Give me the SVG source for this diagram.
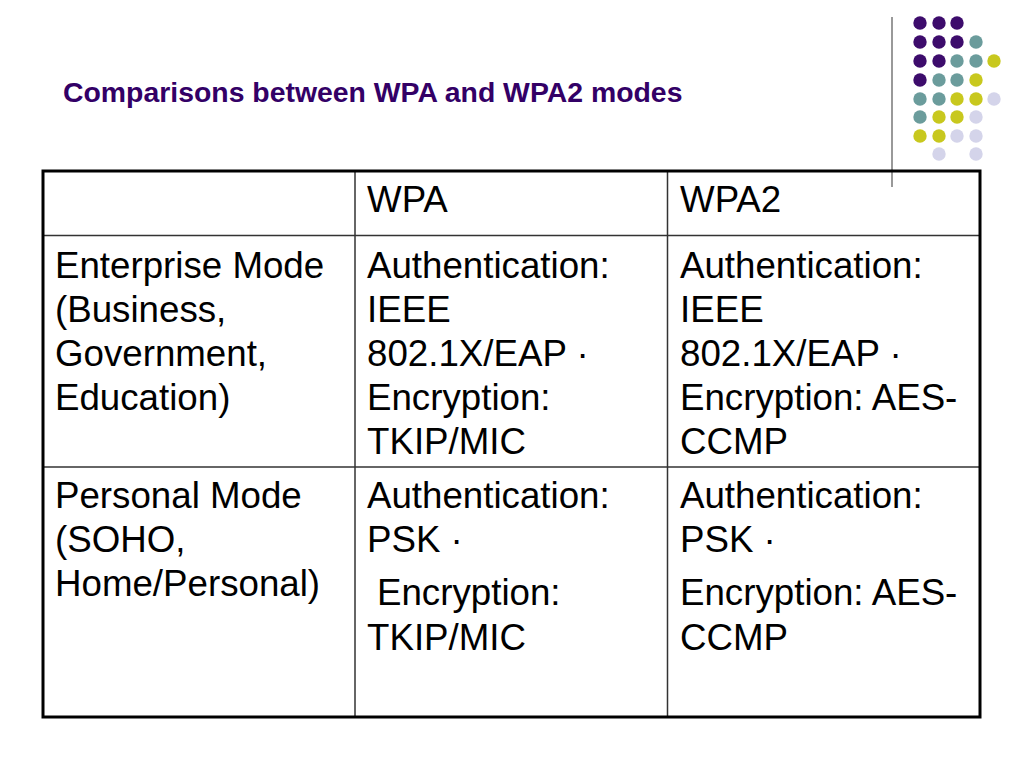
<svg xmlns="http://www.w3.org/2000/svg" width="1024" height="768" viewBox="0 0 1024 768">
<style>
.t{font-family:"Liberation Sans",Arial,sans-serif;font-size:36.7px;fill:#000}
.title{font-family:"Liberation Sans",Arial,sans-serif;font-size:28.4px;font-weight:bold;fill:#330066}
.p{fill:#3d0c6c}.g{fill:#6b9c9c}.y{fill:#c8c81e}.l{fill:#d4d4ea}
.in{stroke:#333;stroke-width:1.5;fill:none}
</style>
<rect width="1024" height="768" fill="#fff"/>
<g id="decor">
<line x1="892" y1="17" x2="892" y2="187" stroke="#555" stroke-width="1.2"/>
<g id="dots">
<circle class="p" cx="920" cy="23" r="6.7"/><circle class="p" cx="939" cy="23" r="6.7"/><circle class="p" cx="957" cy="23" r="6.7"/>
<circle class="p" cx="920" cy="42" r="6.7"/><circle class="p" cx="939" cy="42" r="6.7"/><circle class="p" cx="957" cy="42" r="6.7"/><circle class="g" cx="976" cy="42" r="6.7"/>
<circle class="p" cx="920" cy="61" r="6.7"/><circle class="p" cx="939" cy="61" r="6.7"/><circle class="g" cx="957" cy="61" r="6.7"/><circle class="g" cx="976" cy="61" r="6.7"/><circle class="y" cx="994" cy="61" r="6.7"/>
<circle class="p" cx="920" cy="80" r="6.7"/><circle class="g" cx="939" cy="80" r="6.7"/><circle class="g" cx="957" cy="80" r="6.7"/><circle class="y" cx="976" cy="80" r="6.7"/>
<circle class="g" cx="920" cy="99" r="6.7"/><circle class="g" cx="939" cy="99" r="6.7"/><circle class="y" cx="957" cy="99" r="6.7"/><circle class="y" cx="976" cy="99" r="6.7"/><circle class="l" cx="994" cy="99" r="6.7"/>
<circle class="g" cx="920" cy="117" r="6.7"/><circle class="y" cx="939" cy="117" r="6.7"/><circle class="y" cx="957" cy="117" r="6.7"/><circle class="l" cx="976" cy="117" r="6.7"/>
<circle class="y" cx="920" cy="136" r="6.7"/><circle class="y" cx="939" cy="136" r="6.7"/><circle class="l" cx="957" cy="136" r="6.7"/><circle class="l" cx="976" cy="136" r="6.7"/>
<circle class="l" cx="939" cy="154" r="6.7"/><circle class="l" cx="976" cy="154" r="6.7"/>
</g>
</g>
<text id="title" class="title" x="63" y="102">Comparisons between WPA and WPA2 modes</text>
<g id="table">
<line class="in" x1="355" y1="171" x2="355" y2="717"/>
<line class="in" x1="667.5" y1="171" x2="667.5" y2="717"/>
<line class="in" x1="43" y1="235.5" x2="980" y2="235.5"/>
<line class="in" x1="43" y1="467" x2="980" y2="467"/>
<rect x="43" y="171" width="937" height="546" fill="none" stroke="#000" stroke-width="3"/>
</g>
<g id="header">
<text class="t" x="367" y="212">WPA</text>
<text class="t" x="680" y="212">WPA2</text>
</g>
<g id="enterprise">
<text class="t" x="55" y="278">Enterprise Mode</text>
<text class="t" x="55" y="322">(Business,</text>
<text class="t" x="55" y="366">Government,</text>
<text class="t" x="55" y="410">Education)</text>
</g>
<g id="enterprise-wpa">
<text class="t" x="367" y="278">Authentication:</text>
<text class="t" x="367" y="322">IEEE</text>
<text class="t" x="367" y="366">802.1X/EAP ·</text>
<text class="t" x="367" y="410">Encryption:</text>
<text class="t" x="367" y="454">TKIP/MIC</text>
</g>
<g id="enterprise-wpa2">
<text class="t" x="680" y="278">Authentication:</text>
<text class="t" x="680" y="322">IEEE</text>
<text class="t" x="680" y="366">802.1X/EAP ·</text>
<text class="t" x="680" y="410">Encryption: AES-</text>
<text class="t" x="680" y="454">CCMP</text>
</g>
<g id="personal">
<text class="t" x="55" y="508">Personal Mode</text>
<text class="t" x="55" y="552">(SOHO,</text>
<text class="t" x="55" y="596">Home/Personal)</text>
</g>
<g id="personal-wpa">
<text class="t" x="367" y="508">Authentication:</text>
<text class="t" x="367" y="552">PSK ·</text>
<text class="t" x="377" y="605">Encryption:</text>
<text class="t" x="367" y="650">TKIP/MIC</text>
</g>
<g id="personal-wpa2">
<text class="t" x="680" y="508">Authentication:</text>
<text class="t" x="680" y="552">PSK ·</text>
<text class="t" x="680" y="605">Encryption: AES-</text>
<text class="t" x="680" y="650">CCMP</text>
</g>
</svg>
